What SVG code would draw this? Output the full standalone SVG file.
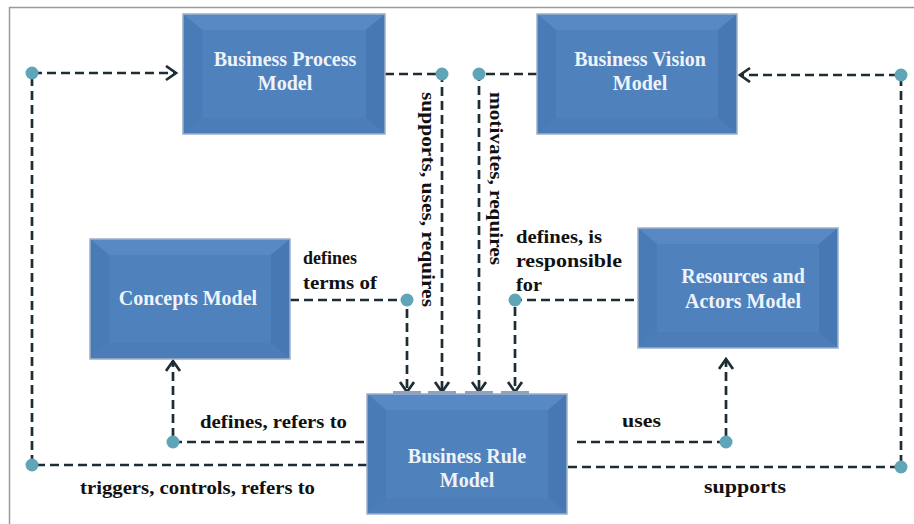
<svg xmlns="http://www.w3.org/2000/svg" width="914" height="524" viewBox="0 0 914 524">
<style>
.box-face{fill:#4f81bd}
.bv-top{fill:#5989c4}
.bv-left{fill:#497bb7}
.bv-right{fill:#4878b3}
.bv-bottom{fill:#4c7db9}
.box-edge{fill:none;stroke:#9cb0c9;stroke-width:1.5}
.ntext{font-family:"Liberation Serif",serif;font-weight:bold;font-size:20px;fill:#eef3f9;text-anchor:middle}
.lbl{font-family:"Liberation Serif",serif;font-weight:bold;font-size:18px;fill:#111111}
.conn{fill:none;stroke:#1e2d35;stroke-width:2.7;stroke-dasharray:9 5}
.dot{fill:#5fa5b7}
.tab{fill:#8fa3ba}
</style>
<defs>
<marker id="arr" markerUnits="userSpaceOnUse" markerWidth="16" markerHeight="18" refX="11" refY="8" orient="auto">
<path d="M1,1 L11,8 L1,15" fill="none" stroke="#1e2d35" stroke-width="2.7" stroke-dasharray="none"/>
</marker>
<g id="bevel">
<rect class="box-face" x="0" y="0" width="200" height="120"/>
<polygon class="bv-top" points="0,0 200,0 181,16 19,16"/>
<polygon class="bv-left" points="0,0 19,16 19,104 0,120"/>
<polygon class="bv-right" points="200,0 181,16 181,104 200,120"/>
<polygon class="bv-bottom" points="0,120 19,104 181,104 200,120"/>
<rect class="box-edge" x="0" y="0" width="200" height="120"/>
</g>
</defs>
<rect x="0" y="0" width="914" height="524" fill="#ffffff"/>
<path d="M9.5,524 L9.5,7.5 L914,7.5" fill="none" stroke="#9a9a9a" stroke-width="1.5"/>

<g id="connectors">
<path class="conn" d="M367,465 L32,465 L32,73 L176,73" marker-end="url(#arr)"/>
<path class="conn" d="M385,74 L442,74 L442,392" marker-end="url(#arr)"/>
<path class="conn" d="M537,74 L479,74 L479,392" marker-end="url(#arr)"/>
<path class="conn" d="M290,300 L407,300 L407,392" marker-end="url(#arr)"/>
<path class="conn" d="M634,300 L515,300 L515,392" marker-end="url(#arr)"/>
<path class="conn" d="M364,442 L173,442 L173,361" marker-end="url(#arr)"/>
<path class="conn" d="M577,442 L726,442 L726,359" marker-end="url(#arr)"/>
<path class="conn" d="M568,467 L901,467 L901,75 L740,75" marker-end="url(#arr)"/>
<circle class="dot" cx="32" cy="465" r="6.5"/>
<circle class="dot" cx="32" cy="73" r="6.5"/>
<circle class="dot" cx="442" cy="74" r="6.5"/>
<circle class="dot" cx="479" cy="74" r="6.5"/>
<circle class="dot" cx="407" cy="300" r="6.5"/>
<circle class="dot" cx="515" cy="300" r="6.5"/>
<circle class="dot" cx="173" cy="442" r="6.5"/>
<circle class="dot" cx="726" cy="442" r="6.5"/>
<circle class="dot" cx="901" cy="467" r="6.5"/>
<circle class="dot" cx="901" cy="75" r="6.5"/>
<text class="lbl" x="80" y="494" textLength="235" lengthAdjust="spacingAndGlyphs">triggers, controls, refers to</text>
<text class="lbl" transform="translate(422,92) rotate(90)" textLength="215" lengthAdjust="spacingAndGlyphs">supports, uses, requires</text>
<text class="lbl" transform="translate(490,92) rotate(90)" textLength="173" lengthAdjust="spacingAndGlyphs">motivates, requires</text>
<text class="lbl" x="303" y="264" textLength="54" lengthAdjust="spacingAndGlyphs">defines</text>
<text class="lbl" x="303" y="289" textLength="74" lengthAdjust="spacingAndGlyphs">terms of</text>
<text class="lbl" x="516" y="243" textLength="86" lengthAdjust="spacingAndGlyphs">defines, is</text>
<text class="lbl" x="516" y="267" textLength="106" lengthAdjust="spacingAndGlyphs">responsible</text>
<text class="lbl" x="516" y="291" textLength="26" lengthAdjust="spacingAndGlyphs">for</text>
<text class="lbl" x="200" y="428" textLength="147" lengthAdjust="spacingAndGlyphs">defines, refers to</text>
<text class="lbl" x="622" y="427" textLength="39" lengthAdjust="spacingAndGlyphs">uses</text>
<text class="lbl" x="704" y="493" textLength="82" lengthAdjust="spacingAndGlyphs">supports</text>
</g>

<g id="business-process-model">
<use href="#bevel" transform="translate(183,14) scale(1.01,1)"/>
<text class="ntext" x="285" y="66">Business Process</text>
<text class="ntext" x="285" y="90">Model</text>
</g>
<g id="business-vision-model">
<use href="#bevel" transform="translate(537,14)"/>
<text class="ntext" x="640" y="66">Business Vision</text>
<text class="ntext" x="640" y="90">Model</text>
</g>
<g id="concepts-model">
<use href="#bevel" transform="translate(90,239)"/>
<text class="ntext" x="188" y="305">Concepts Model</text>
</g>
<g id="resources-and-actors-model">
<use href="#bevel" transform="translate(638,228)"/>
<text class="ntext" x="743" y="283">Resources and</text>
<text class="ntext" x="743" y="308">Actors Model</text>
</g>
<g id="business-rule-model">
<use href="#bevel" transform="translate(367,394)"/>
<rect class="tab" x="393" y="391" width="28" height="3"/>
<rect class="tab" x="428" y="391" width="28" height="3"/>
<rect class="tab" x="465" y="391" width="28" height="3"/>
<rect class="tab" x="501" y="391" width="28" height="3"/>
<text class="ntext" x="467" y="463">Business Rule</text>
<text class="ntext" x="467" y="487">Model</text>
</g>
</svg>
